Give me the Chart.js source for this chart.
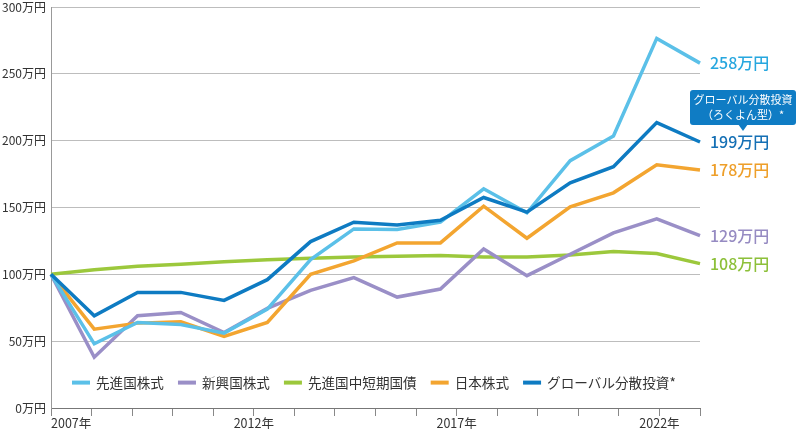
<!DOCTYPE html>
<html lang="ja">
<head>
<meta charset="utf-8">
<script src="https://cdn.jsdelivr.net/npm/chart.js@4"></script>
<style>
  html, body { margin: 0; padding: 0; background: #fff; }
  #wrap { width: 800px; height: 433px; }
</style>
</head>
<body>
<div id="wrap"><canvas id="chart" width="800" height="433"></canvas></div>
<script>
// データ (万円)
const periods = ['p1', 'p2', 'p3', 'p4', 'p5', 'p6', 'p7', 'p8', 'p9', 'p10', 'p11', 'p12', 'p13', 'p14', 'p15', 'p16'];
const years = ['2007', '2008', '2009', '2010', '2011', '2012', '2013', '2014', '2015', '2016', '2017', '2018', '2019', '2020', '2021', '2022', '2023'];
const shownYears = ['2007', '2012', '2017', '2022'];
const yTicks = [0, 50, 100, 150, 200, 250, 300];

const seriesNames = ['先進国株式', '新興国株式', '先進国中短期国債', '日本株式', 'グローバル分散投資*'];
const developedStocks = [100, 48, 64, 62.5, 56, 74, 111, 134, 133.5, 139, 164, 146, 185, 203.5, 276.5, 258];
const emergingStocks = [100, 38, 69, 71.5, 56.5, 74.5, 88, 97.5, 83, 89, 119, 99, 115, 131, 141.5, 129];
const developedBonds = [100, 103.5, 106, 107.5, 109.5, 111, 112, 113, 113.5, 114, 113, 113, 114.5, 117, 115.5, 108];
const japanStocks = [100, 59, 63.5, 64.5, 53.5, 64, 100, 110, 123.5, 123.5, 151, 127, 150.5, 161, 182, 178];
const globalMix = [100, 69, 86.5, 86.5, 80.5, 96, 124.5, 139, 137, 140.5, 157.5, 146.5, 168.5, 180.5, 213.5, 199];
const endLabels = ['258万円', '129万円', '108万円', '178万円', '199万円'];

const lineColors = ['#5BC0E8', '#9A8FC7', '#9CC83C', '#F3A530', '#0E7BC2'];
const labelColors = ['#27A7DF', '#968BC2', '#8DC03A', '#EE9F2A', '#1570B5'];
const drawOrder = [2, 4, 5, 3, 1];

const FONT = '"Noto Sans CJK JP", "Noto Sans", sans-serif';

const allSeries = [developedStocks, emergingStocks, developedBonds, japanStocks, globalMix];

// 凡例 (プロット内に描画)
const legendPlugin = {
    id: 'innerLegend',
    afterDraw(chart) {
        const ctx = chart.ctx;
        const yPos = chart.scales.y.getPixelForValue(19);
        let x = chart.chartArea.left + 21;
        ctx.save();
        ctx.font = '13.6px ' + FONT;
        ctx.textBaseline = 'middle';
        seriesNames.forEach((name, i) => {
            ctx.fillStyle = lineColors[i];
            ctx.fillRect(x, yPos - 2, 18, 4);
            x += 24;
            ctx.fillStyle = '#333';
            ctx.fillText(name, x, yPos);
            x += ctx.measureText(name).width + 14;
        });
        ctx.restore();
    }
};

// 右端の金額ラベルと吹き出し
const endLabelPlugin = {
    id: 'endLabels',
    afterDraw(chart) {
        const ctx = chart.ctx;
        const yScale = chart.scales.y;
        const x = chart.chartArea.right + 10;
        ctx.save();
        ctx.textBaseline = 'middle';
        ctx.font = '500 16px ' + FONT;
        allSeries.forEach((data, i) => {
            const y = yScale.getPixelForValue(data[data.length - 1]);
            ctx.fillStyle = labelColors[i];
            ctx.fillText(endLabels[i], x, y);
        });

        // グローバル分散投資の吹き出し
        const gy = yScale.getPixelForValue(globalMix[globalMix.length - 1]);
        const bx = chart.chartArea.right - 10;
        const bw = 106;
        const by = gy - 52;
        const bh = 35;
        ctx.fillStyle = '#0F7CC4';
        ctx.beginPath();
        ctx.roundRect(bx, by, bw, bh, 3);
        ctx.fill();
        const px = bx + 53;
        ctx.beginPath();
        ctx.moveTo(px - 5, by + bh - 1);
        ctx.lineTo(px + 5, by + bh - 1);
        ctx.lineTo(px, by + bh + 6);
        ctx.closePath();
        ctx.fill();
        ctx.fillStyle = '#fff';
        ctx.textAlign = 'center';
        ctx.font = '11px ' + FONT;
        ctx.fillText('グローバル分散投資', px, by + 10);
        ctx.fillText('（ろくよん型）*', px, by + 25);
        ctx.restore();
    }
};

const datasets = allSeries.map((data, i) => ({
    label: seriesNames[i],
    data: data,
    borderColor: lineColors[i],
    backgroundColor: lineColors[i],
    borderWidth: 3.5,
    pointRadius: 0,
    tension: 0,
    order: drawOrder[i],
    xAxisID: 'x',
    yAxisID: 'y'
}));

new Chart(document.getElementById('chart'), {
    type: 'line',
    data: { labels: periods, datasets: datasets },
    options: {
        responsive: false,
        animation: false,
        devicePixelRatio: 1,
        layout: { padding: { left: 0, right: 100, top: 0, bottom: 0 } },
        plugins: {
            legend: { display: false },
            tooltip: { enabled: false }
        },
        scales: {
            x: {
                type: 'category',
                labels: periods,
                display: false,
                offset: false
            },
            x2: {
                type: 'category',
                labels: years,
                position: 'bottom',
                offset: false,
                grid: { drawOnChartArea: false, drawTicks: true, tickLength: 8, color: '#888' },
                border: { display: true, color: '#777' },
                ticks: {
                    autoSkip: false,
                    maxRotation: 0,
                    align: 'inner',
                    padding: 0,
                    color: '#333',
                    font: { family: FONT, size: 12.5 },
                    callback: function (value, index) {
                        const y = years[index];
                        return shownYears.includes(y) ? y + '年' : '';
                    }
                },
                afterFit: (scale) => { scale.height = 25; }
            },
            y: {
                min: 0,
                max: 300,
                afterBuildTicks: (scale) => { scale.ticks = yTicks.map(v => ({ value: v })); },
                grid: {
                    drawTicks: false,
                    color: (c) => c.tick && c.tick.value === 0 ? '#777' : '#BDBDBD'
                },
                border: { display: true, color: '#999' },
                ticks: {
                    padding: 5,
                    color: '#333',
                    font: { family: FONT, size: 12 },
                    callback: (v) => v + '万円'
                },
                afterFit: (scale) => {
                    scale.width = 51;
                    scale.paddingTop = 7;
                }
            }
        }
    },
    plugins: [legendPlugin, endLabelPlugin]
});
</script>
</body>
</html>
